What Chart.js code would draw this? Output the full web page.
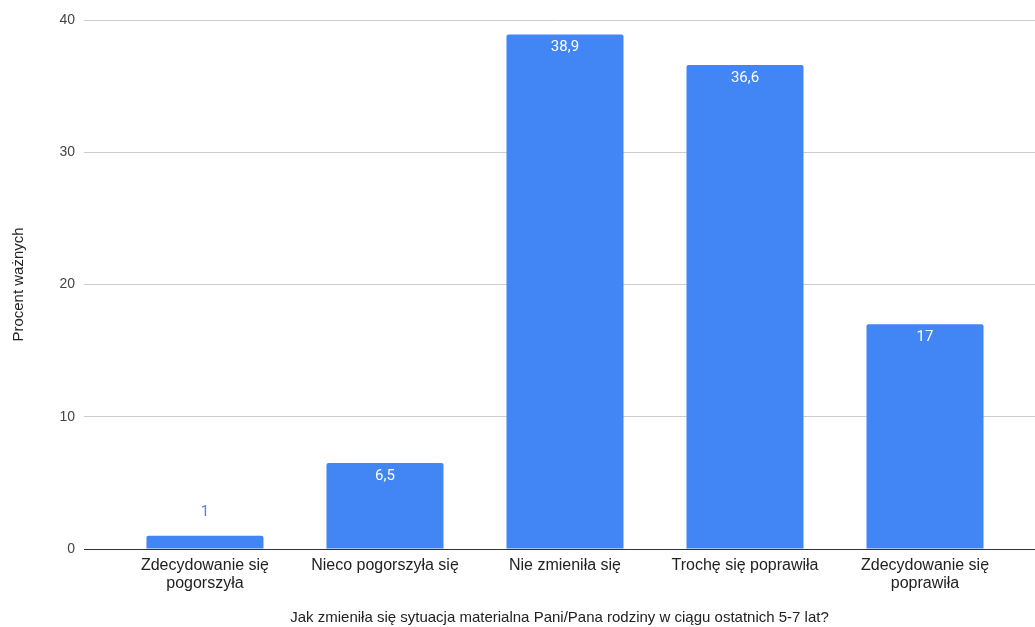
<!DOCTYPE html>
<html>
<head>
<meta charset="utf-8">
<script src="https://cdn.jsdelivr.net/npm/chart.js@4"></script>
<style>
  html, body { margin: 0; padding: 0; background: #fff; }
  #bar-chart { display: block; }
</style>
</head>
<body>
<canvas id="bar-chart" width="1035" height="627"></canvas>
<script>
// data
var categories = [
    ['Zdecydowanie się', 'pogorszyła'],
    'Nieco pogorszyła się',
    'Nie zmieniła się',
    'Trochę się poprawiła',
    ['Zdecydowanie się', 'poprawiła']
];
var values = [1, 6.5, 38.9, 36.6, 17];
var yTicks = [0, 10, 20, 30, 40];
var xTitle = 'Jak zmieniła się sytuacja materialna Pani/Pana rodziny w ciągu ostatnich 5-7 lat?';
var yTitle = 'Procent ważnych';

var barColor = '#4285f4';
var fontAxis = '"Liberation Sans", Arial, sans-serif';

// value labels on the bars
var valueLabels = {
    id: 'valueLabels',
    afterDatasetsDraw: function (chart) {
        var ctx = chart.ctx;
        var meta = chart.getDatasetMeta(0);
        ctx.save();
        ctx.font = '15px Roboto, "Liberation Sans", sans-serif';
        ctx.textAlign = 'center';
        ctx.textBaseline = 'middle';
        meta.data.forEach(function (bar, i) {
            var txt = String(values[i]).replace('.', ',');
            var h = bar.base - bar.y;
            if (h > 30) {
                ctx.fillStyle = '#ffffff';
                ctx.fillText(txt, bar.x, bar.y + 13);
            } else {
                ctx.fillStyle = barColor;
                ctx.fillText(txt, bar.x, bar.y - 24);
            }
        });
        ctx.restore();
    }
};

var points = values.map(function (v, i) { return { x: i, y: v }; });

new Chart(document.getElementById('bar-chart'), {
    type: 'bar',
    data: {
        datasets: [{
            data: points,
            backgroundColor: barColor,
            borderRadius: 2,
            borderSkipped: 'bottom',
            barPercentage: 0.65,
            categoryPercentage: 1
        }]
    },
    options: {
        responsive: false,
        animation: false,
        maintainAspectRatio: false,
        layout: { padding: { top: 20, left: 0, right: 0, bottom: 0 } },
        plugins: {
            legend: { display: false },
            tooltip: { enabled: false }
        },
        scales: {
            x: {
                type: 'linear',
                offset: false,
                min: -0.672,
                max: 4.611,
                afterBuildTicks: function (scale) {
                    scale.ticks = categories.map(function (c, i) { return { value: i }; });
                },
                afterFit: function (scale) { scale.height = 78; },
                grid: { display: false, drawTicks: false, offset: false },
                border: { display: true, color: '#333333', width: 1 },
                ticks: {
                    autoSkip: false,
                    maxRotation: 0,
                    padding: 8,
                    color: '#222222',
                    font: { family: fontAxis, size: 16, lineHeight: '17.5px' },
                    callback: function (v) { return categories[v]; }
                },
                title: {
                    display: true,
                    text: xTitle,
                    color: '#222222',
                    padding: { top: 2, bottom: 0 },
                    font: { family: fontAxis, size: 15 }
                }
            },
            y: {
                min: 0,
                max: 40,
                afterBuildTicks: function (scale) {
                    scale.ticks = yTicks.map(function (t) { return { value: t }; });
                },
                afterFit: function (scale) { scale.width = 84; },
                grid: { color: '#cccccc', drawTicks: false },
                border: { display: false },
                ticks: {
                    padding: 9,
                    color: '#444444',
                    font: { family: fontAxis, size: 14 }
                },
                title: {
                    display: true,
                    text: yTitle,
                    color: '#222222',
                    padding: { top: 10, bottom: 0 },
                    font: { family: fontAxis, size: 15 }
                }
            }
        }
    },
    plugins: [valueLabels]
});
</script>
</body>
</html>
